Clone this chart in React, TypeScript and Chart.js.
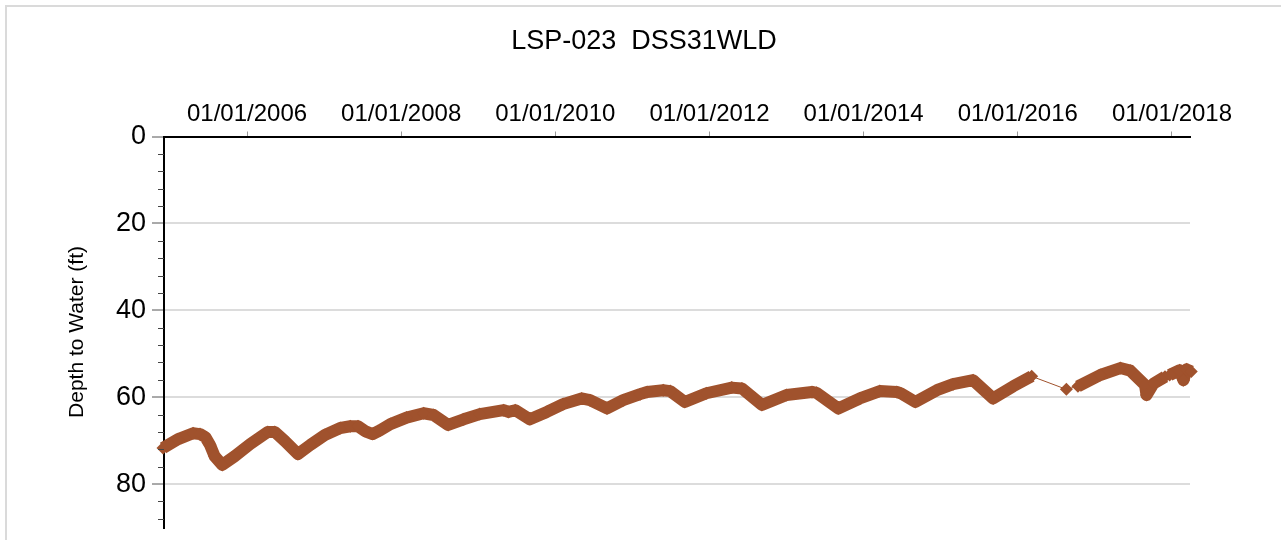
import React, { useEffect, useRef } from "react";
import { Chart, registerables } from "chart.js";

Chart.register(...registerables);

const chartTitle = "LSP-023  DSS31WLD";
const yAxisTitle = "Depth to Water (ft)";

// decimal years of readings
const years = [
  2004.91, 2005.1, 2005.3, 2005.39, 2005.46, 2005.52, 2005.58, 2005.68, 2005.84, 2006.04,
  2006.27, 2006.36, 2006.49, 2006.66, 2006.82, 2007.01, 2007.21, 2007.34, 2007.44, 2007.53,
  2007.63, 2007.73, 2007.86, 2008.07, 2008.29, 2008.42, 2008.61, 2008.81, 2009.02, 2009.33,
  2009.39, 2009.48, 2009.67, 2009.89, 2010.1, 2010.34, 2010.45, 2010.67, 2010.88, 2011.1,
  2011.19, 2011.4, 2011.49, 2011.68, 2011.96, 2012.29, 2012.42, 2012.68, 2013.0, 2013.33,
  2013.39, 2013.67, 2013.95, 2014.21, 2014.43, 2014.49, 2014.67, 2014.95, 2015.16, 2015.42,
  2015.68, 2015.94, 2016.18, 2016.63, 2016.78, 2017.07, 2017.33, 2017.46, 2017.65, 2017.67,
  2017.76, 2017.91, 2017.97, 2018.1, 2018.15, 2018.19, 2018.25,
];

// depth to water (ft)
const depths = [
  71.7, 69.7, 68.3, 68.5, 69.2, 71.0, 73.6, 75.6, 73.6, 70.8,
  68.0, 68.0, 70.1, 73.1, 71.0, 68.7, 67.1, 66.7, 66.7, 67.8,
  68.5, 67.6, 66.2, 64.7, 63.7, 64.1, 66.4, 65.1, 63.9, 63.0,
  63.4, 63.0, 65.1, 63.4, 61.6, 60.3, 60.7, 62.6, 60.7, 59.3,
  58.8, 58.4, 58.6, 61.1, 59.1, 57.8, 58.0, 61.8, 59.5, 58.8,
  59.0, 62.6, 60.3, 58.6, 58.8, 59.2, 61.1, 58.4, 57.0, 56.1,
  60.3, 57.5, 55.2, 58.2, 57.5, 54.9, 53.3, 53.9, 57.2, 59.5,
  56.9, 55.3, 54.9, 53.8, 56.1, 53.6, 54.1,
];

// readings after which there is a gap in the record
const gapStarts = [2016.18, 2016.63, 2017.91];

const xTickYears = [2006, 2008, 2010, 2012, 2014, 2016, 2018];
const yMajorTicks = [0, 20, 40, 60, 80];
const yMinorStep = 4;

const X_MIN = 2004.923;
const X_MAX = 2018.234;
const Y_MIN = 0;
const Y_MAX = 90;

const SIENNA = "#A0522D";
const FONT = "'Liberation Sans', Arial, Helvetica, sans-serif";
const LINE_W = 12;

const minorTicksPlugin = {
  id: "minorTicks",
  afterDraw(chart: any) {
    const y = chart.scales.y;
    const left = chart.chartArea.left;
    const ctx = chart.ctx;
    ctx.save();
    ctx.strokeStyle = "#444";
    ctx.lineWidth = 1;
    for (let v = Y_MIN + yMinorStep; v < Y_MAX; v += yMinorStep) {
      if (yMajorTicks.includes(v)) continue;
      const py = Math.round(y.getPixelForValue(v)) + 0.5;
      ctx.beginPath();
      ctx.moveTo(left - 6, py);
      ctx.lineTo(left, py);
      ctx.stroke();
    }
    ctx.restore();
  },
};

export default function App() {
  const canvasRef = useRef<HTMLCanvasElement | null>(null);

  useEffect(() => {
    if (!canvasRef.current) return;
    Chart.defaults.font.family = FONT;
    const points = years.map((t, i) => ({ x: t, y: depths[i] }));
    const chart = new Chart(canvasRef.current, {
      type: "line",
      data: {
        datasets: [
          {
            data: points,
            borderColor: SIENNA,
            backgroundColor: SIENNA,
            borderWidth: LINE_W,
            borderJoinStyle: "round",
            pointStyle: "rectRot",
            pointRadius: 6.5,
            pointBorderWidth: 0,
            pointHoverRadius: 6.5,
            tension: 0,
            clip: false as any,
            segment: {
              borderWidth: (ctx: any) => (gapStarts.includes(ctx.p0.parsed.x) ? 1 : LINE_W),
            },
          } as any,
        ],
      },
      options: {
        responsive: false,
        animation: false,
        events: [],
        layout: { padding: { left: 7, right: 0, top: 0, bottom: 12.5 } },
        plugins: {
          legend: { display: false },
          tooltip: { enabled: false },
          title: {
            display: true,
            text: chartTitle,
            color: "#000",
            font: { size: 27, weight: "normal" as any, family: FONT },
            padding: { top: 25, bottom: 0 },
          },
        },
        scales: {
          x: {
            type: "linear",
            position: "top",
            min: X_MIN,
            max: X_MAX,
            afterBuildTicks: (s: any) => {
              s.ticks = xTickYears.map((v) => ({ value: v }));
            },
            afterFit: (s: any) => {
              s.height = 79.1;
              s.paddingLeft = 0;
              s.paddingRight = 0;
            },
            ticks: {
              autoSkip: false,
              maxRotation: 0,
              color: "#000",
              padding: 3,
              font: { size: 24, family: FONT },
              callback: (v: any) => `01/01/${v}`,
            },
            grid: {
              drawOnChartArea: false,
              tickLength: 5,
              tickColor: "#999",
              tickWidth: 1,
            },
            border: { color: "#000", width: 2 },
          },
          y: {
            type: "linear",
            reverse: true,
            min: Y_MIN,
            max: Y_MAX,
            afterBuildTicks: (s: any) => {
              s.ticks = yMajorTicks.map((v) => ({ value: v }));
            },
            afterFit: (s: any) => {
              s.width = 157;
              s.paddingTop = 0;
              s.paddingBottom = 0;
            },
            ticks: {
              color: "#000",
              padding: 6,
              font: { size: 27, family: FONT },
            },
            grid: {
              color: (c: any) => (c.tick && c.tick.value === 0 ? "rgba(0,0,0,0)" : "#dcdcdc"),
              lineWidth: 2,
              tickLength: 12,
              tickColor: "#555",
              tickWidth: 1,
            },
            border: { color: "#000", width: 2 },
            title: {
              display: true,
              text: yAxisTitle,
              color: "#000",
              font: { size: 21, family: FONT },
              padding: { top: 57.4, bottom: 0 },
            },
          },
          yRightSpace: {
            type: "linear",
            position: "right",
            display: true,
            ticks: { display: false },
            grid: { display: false, drawTicks: false },
            border: { display: false },
            afterFit: (s: any) => {
              s.width = 91;
              s.paddingTop = 0;
              s.paddingBottom = 0;
            },
          },
        },
      },
      plugins: [minorTicksPlugin],
    });
    return () => chart.destroy();
  }, []);

  return (
    <div
      style={{
        position: "fixed",
        left: 0,
        top: 0,
        width: 1281,
        height: 540,
        overflow: "hidden",
        background: "#fff",
      }}
    >
      <div
        style={{
          position: "absolute",
          left: 5,
          top: 5,
          width: 1400,
          height: 700,
          border: "2px solid #dadada",
          boxSizing: "border-box",
        }}
      />
      <canvas
        ref={canvasRef}
        width={1281}
        height={540}
        style={{ position: "absolute", left: 0, top: 0, display: "block" }}
      />
    </div>
  );
}
